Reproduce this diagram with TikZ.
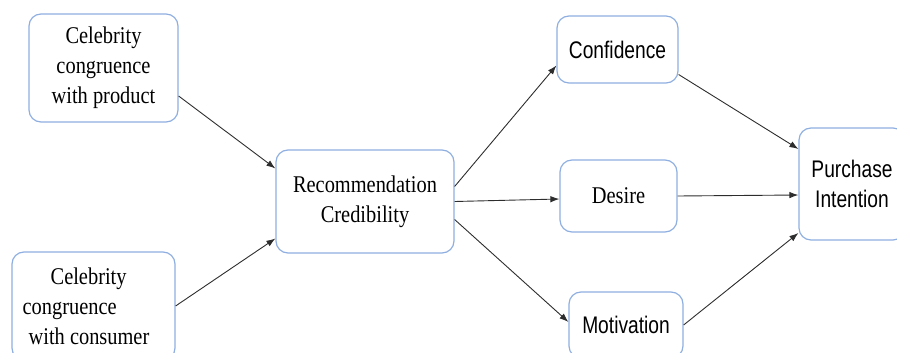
\documentclass[tikz,border=0pt]{standalone}
\usepackage{fontspec}
\setmainfont{Liberation Serif}[FakeStretch=0.85]
\newfontfamily\narrowsans{Liberation Sans}[FakeStretch=0.8]
\usetikzlibrary{arrows.meta,positioning}
\definecolor{boxblue}{RGB}{143,175,225}
\definecolor{linegray}{RGB}{45,45,45}

\begin{document}
\begin{tikzpicture}[x=1pt,y=-1pt,
  box/.style={draw=boxblue, line width=1.2pt, rounded corners=12pt, align=center,
    inner sep=0pt, font=\fontsize{24}{30}\selectfont, text=black},
  link/.style={-{Latex[length=9pt,width=6.5pt]}, draw=linegray, line width=0.9pt}]

\useasboundingbox (0,0) rectangle (897,353);

% left column
\node[box, minimum width=149pt, minimum height=108pt] (prod) at (103.5,68)
  {Celebrity\\congruence\\with product};
\node[box, minimum width=163pt, minimum height=108pt, align=left] (cons) at (93.5,306)
  {\hspace*{28pt}Celebrity\\congruence\\\hspace*{6pt}with consumer\hspace*{15pt}};

% middle
\node[box, minimum width=178pt, minimum height=103pt] (rec) at (365,201.5)
  {Recommendation\\Credibility};

% mediators
\node[box, minimum width=121pt, minimum height=67pt, font=\fontsize{24}{30}\narrowsans] (conf) at (617.5,49.5) {Confidence};
\node[box, minimum width=117pt, minimum height=72pt] (des) at (618.5,196) {Desire};
\node[box, minimum width=114pt, minimum height=66pt, font=\fontsize{24}{30}\narrowsans] (mot) at (626,325) {Motivation};

% outcome
\node[box, minimum width=106pt, minimum height=112pt, font=\fontsize{24}{30}\narrowsans] (pur) at (852,184)
  {Purchase\\Intention};

\draw[link] ([yshift=-28pt]prod.east) -- ([yshift=33pt]rec.west);
\draw[link] (cons.east) -- ([yshift=-37pt]rec.west);

\draw[link] ([yshift=15pt]rec.east) -- ([yshift=-16pt]conf.west);
\draw[link] (rec.east) -- ([yshift=-3pt]des.west);
\draw[link] ([yshift=-18pt]rec.east) -- ([yshift=3pt]mot.west);

\draw[link] ([yshift=-25pt]conf.east) -- ([yshift=35pt]pur.west);
\draw[link] (des.east) -- ([yshift=-11pt]pur.west);
\draw[link] (mot.east) -- ([yshift=-49pt]pur.west);

\end{tikzpicture}
\end{document}
